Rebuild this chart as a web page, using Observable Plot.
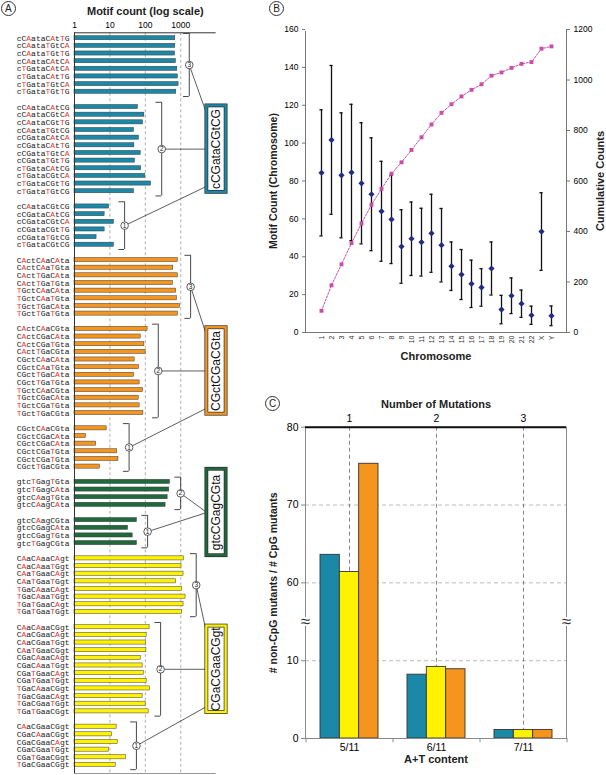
<!DOCTYPE html>
<html><head><meta charset="utf-8">
<script src="https://cdn.jsdelivr.net/npm/d3@7"></script>
<script src="https://cdn.jsdelivr.net/npm/@observablehq/plot@0.6"></script>
<style>
body{margin:0;background:#fff;}
#fig{position:relative;width:606px;height:775px;overflow:hidden;font-family:"Liberation Sans",Arial,sans-serif;background:#fff;}
#fig svg{position:absolute;}
.plabel{position:absolute;width:13px;height:13px;border:1px solid #333;border-radius:50%;font-size:10px;line-height:13px;text-align:center;color:#222;background:#fff;}
</style></head><body><div id="fig"></div>
<script>
// ---------------- DATA ----------------
const motifs = ["cCGataCGtCG", "CGctCGaCGta", "gtcCGagCGta", "CGaCGaaCGgt"];

const blue3Labels = ["cCAataCAtTG","cCAataTGtCA","cCAataTGtTG","cCAataCAtCA","cTGataCAtCA","cTGataCAtTG","cTGataTGtCA","cTGataTGtTG"];
const blue3Counts = [700, 700, 686, 731, 797, 833, 870, 747];
const blue2Labels = ["cCAataCAtCG","cCAataCGtCA","cCAataCGtTG","cCAataTGtCG","cCGataCAtCA","cCGataCAtTG","cCGataTGtCA","cCGataTGtTG","cTGataCAtCG","cTGataCGtCA","cTGataCGtTG","cTGataTGtCG"];
const blue2Counts = [62, 94, 86, 48, 66, 49, 74, 51, 76, 100, 145, 48];
const blue1Labels = ["cCAataCGtCG","cCGataCAtCG","cCGataCGtCA","cCGataCGtTG","cCGataTGtCG","cTGataCGtCG"];
const blue1Counts = [9.5, 7.1, 13, 7.1, 4.2, 13];

const orange3Labels = ["CActCAaCAta","CActCAaTGta","CActTGaCAta","CActTGaTGta","TGctCAaCAta","TGctCAaTGta","TGctTGaCAta","TGctTGaTGta"];
const orange3Counts = [830, 615, 830, 600, 745, 780, 950, 830];
const orange2Labels = ["CActCAaCGta","CActCGaCAta","CActCGaTGta","CActTGaCGta","CGctCAaCAta","CGctCAaTGta","CGctTGaCAta","CGctTGaTGta","TGctCAaCGta","TGctCGaCAta","TGctCGaTGta","TGctTGaCGta"];
const orange2Counts = [116, 74, 94, 102, 50, 66, 48, 69, 86, 65, 69, 88];
const orange1Labels = ["CGctCAaCGta","CGctCGaCAta","CGctCGaCAta","CGctCGaTGta","CGctCGaTGta","CGctTGaCGta"];
const orange1Counts = [8.1, 2.1, 4.1, 16, 17.4, 5.2];

const green2Labels = ["gtcTGagTGta","gtcTGagCAta","gtcCAagTGta","gtcCAagCAta"];
const green2Counts = [497, 474, 426, 373];
const green1Labels = ["gtcCAagCGta","gtcCGagCAta","gtcCGagTGta","gtcTGagCGta"];
const green1Counts = [58, 32.5, 44, 58];

const yellow3Labels = ["CAaCAaaCAgt","CAaCAaaTGgt","CAaTGaaCAgt","CAaTGaaTGgt","TGaCAaaCAgt","TGaCAaaTGgt","TGaTGaaCAgt","TGaTGaaTGgt"];
const yellow3Counts = [1230, 1050, 1200, 733, 1080, 1365, 1200, 1100];
const yellow2Labels = ["CAaCAaaCGgt","CAaCGaaCAgt","CAaCGaaTGgt","CAaTGaaCGgt","CGaCAaaCAgt","CGaCAaaTGgt","CGaTGaaCAgt","CGaTGaaTGgt","TGaCAaaCGgt","TGaCGaaCAgt","TGaCGaaTGgt","TGaTGaaCGgt"];
const yellow2Counts = [132, 109, 104, 107, 74, 84, 90, 109, 135, 84, 102, 124];
const yellow1Labels = ["CAaCGaaCGgt","CGaCAaaCGgt","CGaCGaaCAgt","CGaCGaaTGgt","CGaTGaaCGgt","TGaCGaaCGgt"];
const yellow1Counts = [15.5, 11.5, 16.6, 9.5, 28, 14.6];

const logTicks = [1, 10, 100, 1000];

const chromosomes = ["1","2","3","4","5","6","7","8","9","10","11","12","13","14","15","16","17","18","19","20","21","22","X","Y"];
const meanCounts = [84.3, 101.7, 83, 84.5, 78.8, 73, 64, 59.7, 45.4, 49.5, 47.7, 52.4, 46.1, 35, 30.6, 25.7, 23.8, 33.8, 12.1, 19.4, 15.2, 9.1, 53.3, 8.8];
const errCounts = [33.3, 39.3, 33, 36, 32, 29.8, 26.4, 23.3, 19.4, 19.4, 17.9, 20.6, 19.4, 12.8, 13.2, 12.5, 9.9, 14, 7.5, 9.4, 7.2, 4.8, 20.5, 5.2];
const cumulativeCounts = [86, 187, 270, 354, 432, 506, 569, 629, 674, 723, 773, 824, 870, 904, 935, 961, 983, 1017, 1030, 1048, 1064, 1071, 1124, 1133];
const countTicks = [0, 20, 40, 60, 80, 100, 120, 140, 160];
const cumTicks = [0, 200, 400, 600, 800, 1000, 1200];

const atContent = ["5/11", "6/11", "7/11"];
const mutationNumbers = ["1", "2", "3"];
const ratioCCGataCGtCG = [63.6, 8.2, 1.1];
const ratioCGaCGaaCGgt = [61.4, 9.2, 1.1];
const ratioCGctCGaCGta = [75.3, 8.9, 1.1];
const ratioTicks = [0, 10, 60, 70, 80];

// ---------------- STYLES ----------------
const palette = ["#1a89a8", "#f5951e", "#1e6a3d", "#fff200"];
const redC = "#e8352b", navy = "#232c80", pink = "#cc4aa8";
const font = "'Liberation Sans', Arial, sans-serif";
const NB = "\u00A0";
const fig = document.getElementById("fig");
function place(svg, left, top) { svg.style.left = left + "px"; svg.style.top = top + "px"; fig.appendChild(svg); }
function circleLabel(letter, cx, cy) {
  const d = document.createElement("div"); d.className = "plabel"; d.textContent = letter;
  d.style.left = (cx - 7.5) + "px"; d.style.top = (cy - 7.5) + "px"; fig.appendChild(d);
}

// ---------------- PANEL A ----------------
const groupDefs = [
  {motif: 0, n: 3, labels: blue3Labels, counts: blue3Counts},
  {motif: 0, n: 2, labels: blue2Labels, counts: blue2Counts},
  {motif: 0, n: 1, labels: blue1Labels, counts: blue1Counts},
  {motif: 1, n: 3, labels: orange3Labels, counts: orange3Counts},
  {motif: 1, n: 2, labels: orange2Labels, counts: orange2Counts},
  {motif: 1, n: 1, labels: orange1Labels, counts: orange1Counts},
  {motif: 2, n: 2, labels: green2Labels, counts: green2Counts},
  {motif: 2, n: 1, labels: green1Labels, counts: green1Counts},
  {motif: 3, n: 3, labels: yellow3Labels, counts: yellow3Counts},
  {motif: 3, n: 2, labels: yellow2Labels, counts: yellow2Counts},
  {motif: 3, n: 1, labels: yellow1Labels, counts: yellow1Counts}
];
const rowsA = [], grpA = [];
let s = 0;
groupDefs.forEach((g, gi) => {
  if (gi > 0) s += 1;
  const first = s;
  const m = motifs[g.motif];
  g.labels.forEach((label, i) => {
    const ch = [...label];
    rowsA.push({slot: s, count: g.counts[i], motif: g.motif,
      black: ch.map((c, k) => c === m[k] ? c : NB).join(""),
      red: ch.map((c, k) => c === m[k] ? NB : c).join("")});
    s += 1;
  });
  grpA.push({motif: g.motif, n: g.n, first, last: s - 1, center: (first + s - 1) / 2, bx: d3.max(g.counts) * 2});
});
const nSlots = s;
const allMax = d3.max(rowsA, d => d.count);
const boxL = allMax * 4, boxR = allMax * 14, boxHalf = 5.65;
const boxes = motifs.map((m, k) => {
  const gs = grpA.filter(g => g.motif === k);
  const c = gs.length === 3 ? gs.find(g => g.n === 2).center : d3.mean(gs, g => g.center);
  return {motif: k, text: m, c};
});
grpA.forEach(g => {
  const b = boxes[g.motif];
  const cnt = grpA.filter(h => h.motif === g.motif).length;
  g.ty = cnt === 3 ? (g.n === 3 ? b.c - boxHalf + 1.1 : g.n === 2 ? g.center : b.c + boxHalf - 0.8) : b.c;
});
const yA = [-0.706, nSlots + 0.12];

const plotA = Plot.plot({
  width: 245, height: 775, marginLeft: 74, marginRight: 1, marginTop: 32.3, marginBottom: 2,
  style: {background: "transparent", fontFamily: font, overflow: "visible"},
  x: {type: "log", domain: [1, 10 ** 4.8]},
  y: {domain: yA, reverse: true, axis: null},
  color: {type: "identity"},
  marks: [
    Plot.ruleX(logTicks.slice(1), {stroke: "#9a9a9a", strokeDasharray: "3,2.5", strokeWidth: 0.8}),
    Plot.ruleY([yA[1]], {x1: 1, x2: 1e4, stroke: "#999", strokeWidth: 1}),
    Plot.rect(rowsA, {x1: 1, x2: "count", y1: d => d.slot - 0.27, y2: d => d.slot + 0.27,
      fill: d => palette[d.motif], stroke: "#3a3a3a", strokeWidth: 0.5}),
    Plot.ruleX([1], {stroke: "#333", strokeWidth: 1}),
    Plot.ruleY([yA[0]], {x1: 1, x2: 1e4, stroke: "#333", strokeWidth: 1}),
    Plot.text(rowsA, {x: 1, y: "slot", text: "black", textAnchor: "end", dx: -5,
      fontFamily: "'Liberation Mono', 'Courier New', monospace", fontSize: 8, fill: "#222"}),
    Plot.text(rowsA, {x: 1, y: "slot", text: "red", textAnchor: "end", dx: -5,
      fontFamily: "'Liberation Mono', 'Courier New', monospace", fontSize: 8, fill: redC}),
    // brackets
    Plot.ruleX(grpA, {x: "bx", y1: d => d.first - 0.62, y2: d => d.last + 0.62, stroke: "#333", strokeWidth: 0.9}),
    Plot.ruleY(grpA, {y: d => d.first - 0.62, x1: d => d.bx / 1.45, x2: "bx", stroke: "#333", strokeWidth: 0.9}),
    Plot.ruleY(grpA, {y: d => d.last + 0.62, x1: d => d.bx / 1.45, x2: "bx", stroke: "#333", strokeWidth: 0.9}),
    Plot.link(grpA, {x1: "bx", y1: "center", x2: boxL, y2: "ty", stroke: "#333", strokeWidth: 0.8}),
    // motif boxes
    Plot.rect(boxes, {x1: boxL, x2: boxR, y1: d => d.c - boxHalf, y2: d => d.c + boxHalf, fill: "white", stroke: "#2a2a2a", strokeWidth: 3.8}),
    Plot.rect(boxes, {x1: boxL, x2: boxR, y1: d => d.c - boxHalf, y2: d => d.c + boxHalf, fill: "none", stroke: d => palette[d.motif], strokeWidth: 2.4}),
    Plot.text(boxes, {x: Math.sqrt(boxL * boxR), y: "c", text: "text", rotate: -90, textAnchor: "middle", fontSize: 12, fill: "#111"}),
    Plot.dot(grpA, {x: "bx", y: "center", r: 3.8, fill: "white", stroke: "#333", strokeWidth: 0.8}),
    Plot.text(grpA, {x: "bx", y: "center", text: d => String(d.n), fontSize: 6.5, fill: "#111"}),
    // axis + title
    Plot.axisX({anchor: "top", ticks: logTicks, tickFormat: d => String(d), tickSize: 0, tickPadding: 5, fontSize: 8.5, label: null}),
    Plot.text(["Motif count (log scale)"], {x: 100, frameAnchor: "top", dy: -25.5, text: d => d, textAnchor: "middle", fontWeight: "bold", fontSize: 11, fill: "#222"})
  ]
});
place(plotA, 0, 0);

// ---------------- PANEL B ----------------
const rowsB = chromosomes.map((c, i) => ({chr: c, mean: meanCounts[i], err: errCounts[i], cum: cumulativeCounts[i]}));
const ratio = d3.max(cumTicks) / d3.max(countTicks);
const plotB = Plot.plot({
  width: 361, height: 375, marginLeft: 60, marginRight: 40, marginTop: 29, marginBottom: 43,
  style: {background: "transparent", fontFamily: font, overflow: "visible"},
  x: {type: "band", domain: chromosomes, padding: 0},
  y: {domain: [0, d3.max(countTicks)]},
  marks: [
    Plot.frame({stroke: "#777"}),
    Plot.ruleY([d3.max(countTicks)], {stroke: "white", strokeWidth: 2.5}),
    Plot.axisY({ticks: countTicks, tickSize: 3, tickPadding: 4, fontSize: 8.5, label: null, stroke: "#777"}),
    Plot.axisY({anchor: "right", ticks: cumTicks.map(v => v / ratio), tickFormat: d => String(Math.round(d * ratio)), tickSize: 3, tickPadding: 4, fontSize: 8.5, label: null, stroke: "#777"}),
    Plot.axisX({tickRotate: -90, tickSize: 0, tickPadding: 3, fontSize: 7, label: null, fill: "#333"}),
    Plot.ruleX(rowsB, {x: "chr", y1: d => d.mean - d.err, y2: d => d.mean + d.err, stroke: "#111", strokeWidth: 1.3}),
    Plot.tickY(rowsB, {x: "chr", y: d => d.mean + d.err, insetLeft: 3.4, insetRight: 3.4, stroke: "#111", strokeWidth: 1.3}),
    Plot.tickY(rowsB, {x: "chr", y: d => d.mean - d.err, insetLeft: 3.4, insetRight: 3.4, stroke: "#111", strokeWidth: 1.3}),
    Plot.line(rowsB, {x: "chr", y: d => d.cum / ratio, stroke: pink, strokeWidth: 1, strokeDasharray: "2,1.5"}),
    Plot.dot(rowsB, {x: "chr", y: d => d.cum / ratio, symbol: "square", r: 2.2, fill: pink}),
    Plot.dot(rowsB, {x: "chr", y: "mean", symbol: "diamond2", r: 2.8, fill: navy}),
    Plot.text(["Motif Count (Chromosome)"], {frameAnchor: "left", dx: -32, rotate: -90, textAnchor: "middle", text: d => d, fontWeight: "bold", fontSize: 10.5, fill: "#222"}),
    Plot.text(["Cumulative Counts"], {frameAnchor: "right", dx: 34, rotate: -90, textAnchor: "middle", text: d => d, fontWeight: "bold", fontSize: 11, fill: "#222"}),
    Plot.text(["Chromosome"], {frameAnchor: "bottom", dy: 27, textAnchor: "middle", text: d => d, fontWeight: "bold", fontSize: 11, fill: "#222"})
  ]
});
place(plotB, 245, 0);

// ---------------- PANEL C ----------------
const brkLow = 10, brkHigh = 60, brkGap = 10;
const brk = v => v <= brkLow ? v : v >= brkHigh ? v - brkHigh + brkLow + brkGap : brkLow + (v - brkLow) * brkGap / (brkHigh - brkLow);
const tickLabel = new Map(ratioTicks.map(v => [brk(v), String(v)]));
const seriesC = [
  {values: ratioCCGataCGtCG, color: palette[0]},
  {values: ratioCGaCGaaCGgt, color: palette[3]},
  {values: ratioCGctCGaCGta, color: palette[1]}
];
const wC = 361, mLC = 60, mRC = 40;
const stepC = (wC - mLC - mRC) / atContent.length;
const bwC = stepC * (1 - 1 / 3);
const plotC = Plot.plot({
  width: wC, height: 400, marginLeft: mLC, marginRight: mRC, marginTop: 51.7, marginBottom: 37,
  style: {background: "transparent", fontFamily: font, overflow: "visible"},
  x: {type: "band", domain: atContent, paddingInner: 1 / 3, paddingOuter: 1 / 6, axis: null},
  y: {domain: [0, brk(d3.max(ratioTicks))], axis: null},
  marks: [
    Plot.ruleY(ratioTicks.slice(1, -1).map(brk), {stroke: "#b5b5b5", strokeDasharray: "4,3", strokeWidth: 0.9}),
    Plot.ruleX(atContent, {x: d => d, stroke: "#777", strokeDasharray: "4,3", strokeWidth: 0.9}),
    ...seriesC.map((sr, k) => Plot.barY(atContent.map((c, i) => ({c, v: sr.values[i]})), {
      x: "c", y: d => brk(d.v), fill: sr.color, stroke: "#333", strokeWidth: 0.9,
      insetLeft: k * bwC / 3, insetRight: (2 - k) * bwC / 3})),
    Plot.frame({stroke: "#888"}),
    Plot.ruleY([brk(d3.max(ratioTicks))], {stroke: "#111", strokeWidth: 2}),
    Plot.ruleX(atContent, {x: d => d, y1: 0, y2: -0.55, dx: -stepC / 2, stroke: "#888"}),
    Plot.ruleX(atContent.slice(-1), {x: d => d, y1: 0, y2: -0.55, dx: stepC / 2, stroke: "#888"}),
    Plot.text([(brkLow + brkLow + brkGap) / 2], {y: d => d, frameAnchor: "left", textAnchor: "middle", text: () => "≈", fontSize: 17, fill: "#333", stroke: "white", strokeWidth: 4, paintOrder: "stroke"}),
    Plot.text([(brkLow + brkLow + brkGap) / 2], {y: d => d, frameAnchor: "right", textAnchor: "middle", text: () => "≈", fontSize: 17, fill: "#333", stroke: "white", strokeWidth: 4, paintOrder: "stroke"}),
    Plot.axisY({ticks: ratioTicks.map(brk), tickFormat: d => tickLabel.get(d), tickSize: 4, tickPadding: 3, fontSize: 10.5, label: null, stroke: "#888"}),
    Plot.axisX({anchor: "top", tickFormat: d => mutationNumbers[atContent.indexOf(d)], tickSize: 0, tickPadding: 5, fontSize: 10.5, label: null}),
    Plot.axisX({anchor: "bottom", tickSize: 0, tickPadding: 5, fontSize: 10.5, label: null}),
    Plot.text(["# non-CpG mutants / # CpG mutants"], {frameAnchor: "left", dx: -32, rotate: -90, textAnchor: "middle", text: d => d, fontWeight: "bold", fontSize: 10.5, fill: "#222"}),
    Plot.text(["Number of Mutations"], {frameAnchor: "top", dy: -26.7, textAnchor: "middle", text: d => d, fontWeight: "bold", fontSize: 11, fill: "#222"}),
    Plot.text(["A+T content"], {frameAnchor: "bottom", dy: 24, textAnchor: "middle", text: d => d, fontWeight: "bold", fontSize: 11, fill: "#222"})
  ]
});
place(plotC, 245, 375);

circleLabel("A", 8.3, 8.3);
circleLabel("B", 276.7, 8.3);
circleLabel("C", 272.7, 403.3);
</script></body></html>
